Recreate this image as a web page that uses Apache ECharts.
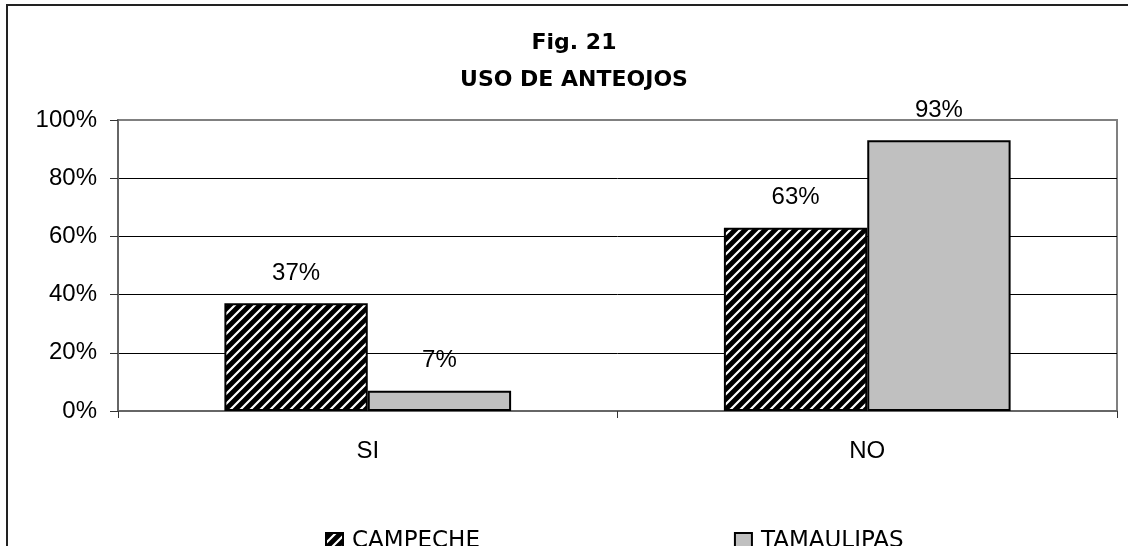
<!DOCTYPE html>
<html>
<head>
<meta charset="utf-8">
<title>Fig. 21 USO DE ANTEOJOS</title>
<script src="https://cdn.jsdelivr.net/npm/echarts@6/dist/echarts.min.js"></script>
<style>
    html, body { margin: 0; padding: 0; background: #fff; }
    #chart1 { width: 1128px; height: 546px; }
</style>
</head>
<body>
<div id="chart1"></div>
<script>
var categories = ['SI', 'NO'];
var campeche = [37, 63];
var tamaulipas = [7, 93];
var yTicks = [0, 20, 40, 60, 80, 100];

var comicFont = '"Comic Sans MS", "DejaVu Sans", sans-serif';
var arialFont = '"Liberation Sans", Arial, sans-serif';

// hatch pattern: black with white diagonal stripes
var makeHatch = function () {
    var c = document.createElement('canvas');
    c.width = 10;
    c.height = 10;
    var ctx = c.getContext('2d');
    ctx.fillStyle = '#000';
    ctx.fillRect(0, 0, 10, 10);
    ctx.strokeStyle = '#fff';
    ctx.lineWidth = 2.2;
    ctx.beginPath();
    ctx.moveTo(-2, 12); ctx.lineTo(12, -2);
    ctx.moveTo(-7, 7); ctx.lineTo(7, -7);
    ctx.moveTo(3, 17); ctx.lineTo(17, 3);
    ctx.stroke();
    return c;
};

var myChart = echarts.init(document.getElementById('chart1'));
var option = {
    animation: false,
    backgroundColor: '#fff',
    title: {
        text: 'Fig. 21\nUSO DE ANTEOJOS',
        left: 569,
        top: 20,
        textAlign: 'center',
        textStyle: {
            fontFamily: comicFont,
            fontWeight: 'bold',
            fontSize: 22,
            lineHeight: 37,
            color: '#000'
        }
    },
    graphic: [{
        type: 'rect',
        shape: { x: 7, y: 5, width: 1140, height: 580 },
        style: { fill: 'none', stroke: '#222', lineWidth: 2 },
        silent: true
    }],
    legend: {
        left: 320,
        top: 525,
        itemWidth: 17,
        itemHeight: 17,
        itemGap: 254,
        icon: 'rect',
        textStyle: { fontFamily: comicFont, fontSize: 23, color: '#000', padding: [0, 0, 0, 4] },
        data: ['CAMPECHE', 'TAMAULIPAS']
    },
    grid: {
        left: 118,
        top: 120,
        right: 11,
        bottom: 135,
        show: true,
        borderColor: '#808080',
        borderWidth: 2,
        backgroundColor: '#fff'
    },
    xAxis: {
        type: 'category',
        data: categories,
        axisLine: { lineStyle: { color: '#666', width: 2 } },
        axisTick: { show: true, length: 7, lineStyle: { color: '#333' } },
        axisLabel: { margin: 28, fontFamily: arialFont, fontSize: 24, color: '#000' }
    },
    yAxis: {
        type: 'value',
        min: yTicks[0],
        max: yTicks[yTicks.length - 1],
        interval: 20,
        axisLine: { show: true, lineStyle: { color: '#666', width: 2 } },
        axisTick: { show: true, length: 8, lineStyle: { color: '#333' } },
        axisLabel: { margin: 21, formatter: '{value}%', fontFamily: arialFont, fontSize: 24, color: '#000' },
        splitLine: { show: true, lineStyle: { color: ['#000', '#000', '#000', '#000', '#000', '#808080'], width: 1 } }
    },
    series: [{
        name: 'CAMPECHE',
        type: 'bar',
        data: campeche,
        barGap: '0%',
        barCategoryGap: '42.6%',
        itemStyle: {
            color: { image: makeHatch(), repeat: 'repeat' },
            borderColor: '#000',
            borderWidth: 2
        },
        label: {
            show: true,
            position: 'top',
            distance: 18,
            formatter: '{c}%',
            fontFamily: arialFont,
            fontSize: 24,
            color: '#000'
        }
    }, {
        name: 'TAMAULIPAS',
        type: 'bar',
        data: tamaulipas,
        itemStyle: {
            color: '#c0c0c0',
            borderColor: '#000',
            borderWidth: 2
        },
        label: {
            show: true,
            position: 'top',
            distance: 18,
            formatter: '{c}%',
            fontFamily: arialFont,
            fontSize: 24,
            color: '#000'
        }
    }]
};
myChart.setOption(option);
</script>
</body>
</html>
